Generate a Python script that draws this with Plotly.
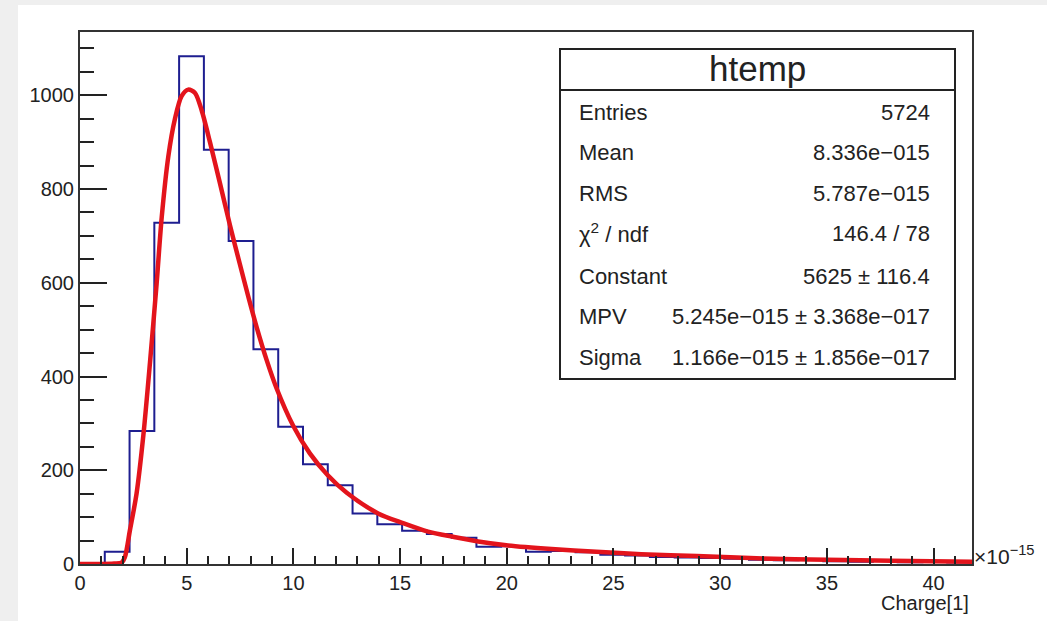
import numpy as np
import plotly.graph_objects as go

# ---------------- data ----------------
x_min, x_max = 0.0, 41.8          # units of 1e-15
n_bins = 36
counts = [2, 26, 284, 728, 1083, 884, 689, 458, 293, 213, 168, 108, 85, 71, 64, 56,
          37, 38, 26, 28, 25, 20, 18, 15, 14, 13, 11, 9, 8, 10, 6, 5, 8, 4, 5, 3]

fit_x = [0, 1.0, 1.6, 1.95, 2.1, 2.34, 2.65, 2.97, 3.28, 3.59, 3.83, 4.14, 4.45, 4.76,
         5.07, 5.39, 5.70, 6.09, 6.56, 7.03, 7.49, 7.9, 8.28, 8.74, 9.21, 9.99, 10.77,
         11.6, 12.5, 13.97, 15.14, 16.31, 17.48, 18.66, 19.98, 22.1, 24.2, 26.3, 28.9,
         32, 35, 38, 41.8]
fit_y = [0, 0, 1, 3, 14, 72, 150, 275, 430, 598, 740, 870, 950, 998,
         1012, 1005, 968, 900, 812, 722, 640, 568, 505, 436, 375, 295, 236,
         190, 152, 108, 87, 69, 58, 48, 40, 32, 26, 21, 17,
         12, 9, 7, 5]

x_ticks = [0, 5, 10, 15, 20, 25, 30, 35, 40]
y_ticks = [0, 200, 400, 600, 800, 1000]

stat_title = "htemp"
stat_labels = ["Entries", "Mean", "RMS", "χ<sup>2</sup> / ndf", "Constant", "MPV", "Sigma"]
stat_values = ["5724", "8.336e−015", "5.787e−015", "146.4 / 78", "5625 ± 116.4",
               "5.245e−015 ± 3.368e−017", "1.166e−015 ± 1.856e−017"]
x_title = "Charge[1]"
x_exponent = "×10<sup>−15</sup>"

# ---------------- layout geometry (pixels) ----------------
W, H = 1047, 621
L, R, T, B = 80, 972, 32, 564
y_max = 1135

def px(X):
    return (X - L) / (R - L)

def py(Y):
    return (B - Y) / (B - T)

edges = np.linspace(x_min, x_max, n_bins + 1)
hx = list(edges)
hy = list(counts) + [counts[-1]]

FONT = "Liberation Sans, Arial, sans-serif"
TXT = "#222222"

fig = go.Figure()
fig.add_trace(go.Scatter(x=hx, y=hy, mode="lines", line=dict(shape="hv", color="#1e1e90", width=2),
                         hoverinfo="skip", showlegend=False))
fig.add_trace(go.Scatter(x=fit_x, y=fit_y, mode="lines",
                         line=dict(shape="spline", smoothing=0.8, color="#e3141c", width=4.5),
                         hoverinfo="skip", showlegend=False))

fig.update_layout(
    width=W, height=H,
    margin=dict(l=L, r=W - R, t=T, b=H - B),
    paper_bgcolor="#efefef",
    plot_bgcolor="white",
    font=dict(family=FONT, color=TXT, size=20),
    showlegend=False,
)
fig.update_xaxes(range=[x_min, x_max], tickvals=x_ticks, ticks="inside", ticklen=16,
                 tickwidth=1.5, tickcolor="#222", showgrid=False, zeroline=False,
                 showline=True, linecolor="#333", linewidth=2, mirror=True,
                 tickfont=dict(size=20, color=TXT), ticklabelstandoff=0,
                 minor=dict(dtick=1, ticks="inside", ticklen=8, tickwidth=1.5, tickcolor="#222"))
fig.update_yaxes(range=[0, y_max], tickvals=y_ticks, ticks="inside", ticklen=27,
                 tickwidth=1.5, tickcolor="#222", showgrid=False, zeroline=False,
                 showline=True, linecolor="#333", linewidth=2, mirror=True,
                 tickfont=dict(size=20, color=TXT), ticklabelstandoff=0,
                 minor=dict(dtick=50, ticks="inside", ticklen=14, tickwidth=1.5, tickcolor="#222"))

shapes = []
# white canvas area over grey border
shapes.append(dict(type="rect", xref="paper", yref="paper", layer="below",
                   x0=px(18), x1=px(W + 5), y0=py(H + 5), y1=py(5),
                   fillcolor="white", line=dict(width=0)))
# stats box
bx0, bx1, by0, by1 = 560, 955, 49, 379
shapes.append(dict(type="rect", xref="paper", yref="paper",
                   x0=px(bx0), x1=px(bx1), y0=py(by1), y1=py(by0),
                   fillcolor="white", line=dict(color="#222", width=2), layer="above"))
shapes.append(dict(type="line", xref="paper", yref="paper",
                   x0=px(bx0), x1=px(bx1), y0=py(90), y1=py(90),
                   line=dict(color="#222", width=2), layer="above"))
fig.update_layout(shapes=shapes)

ann = []
ann.append(dict(x=px((bx0 + bx1) / 2), y=py(68), xref="paper", yref="paper", text=stat_title,
                showarrow=False, xanchor="center", yanchor="middle",
                font=dict(size=35, color=TXT, family=FONT)))
row_y = [112, 153, 193, 233, 276, 316, 357]
for lab, val, yy in zip(stat_labels, stat_values, row_y):
    ann.append(dict(x=px(577), y=py(yy), xref="paper", yref="paper", text=lab, showarrow=False,
                    xanchor="left", yanchor="middle", font=dict(size=22, color=TXT, family=FONT)))
    ann.append(dict(x=px(932), y=py(yy), xref="paper", yref="paper", text=val, showarrow=False,
                    xanchor="right", yanchor="middle", font=dict(size=22, color=TXT, family=FONT)))
ann.append(dict(x=px(971), y=py(603), xref="paper", yref="paper", text=x_title, showarrow=False,
                xanchor="right", yanchor="middle", font=dict(size=20, color=TXT, family=FONT)))
ann.append(dict(x=px(972), y=py(555), xref="paper", yref="paper", text=x_exponent, showarrow=False,
                xanchor="left", yanchor="middle", font=dict(size=21, color=TXT, family=FONT)))
fig.update_layout(annotations=ann)

fig.write_html("out.html")
